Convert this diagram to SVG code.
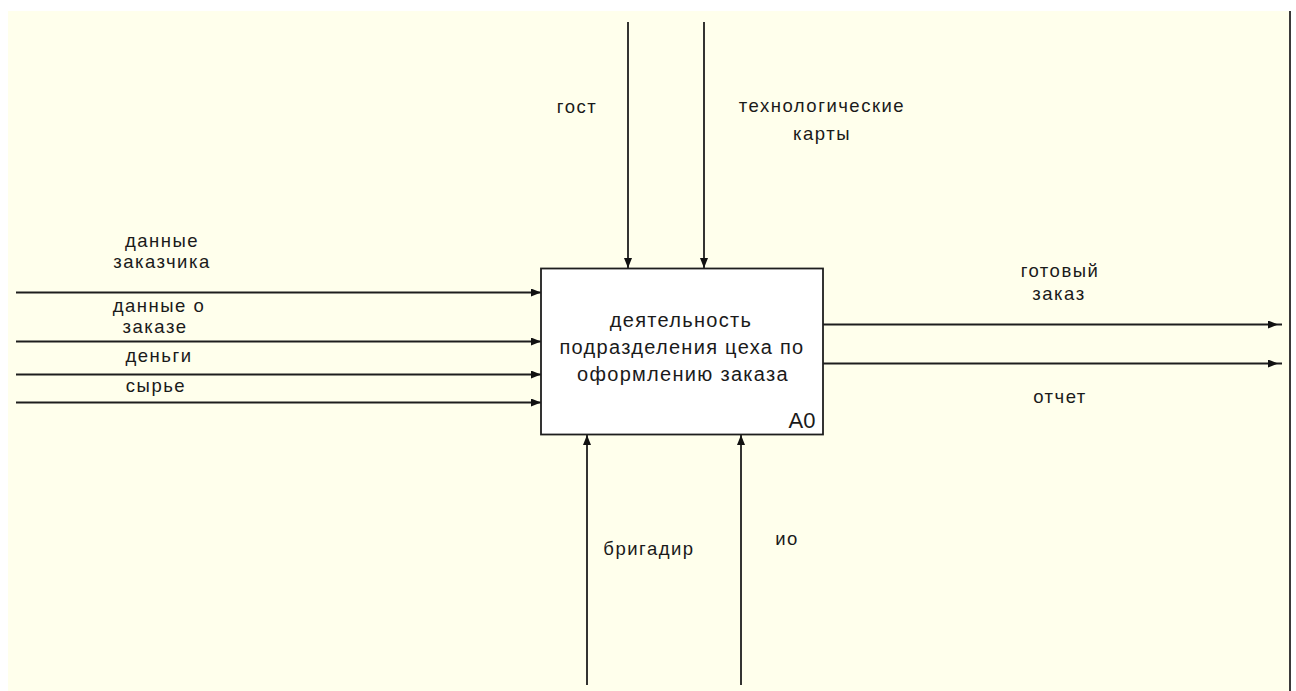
<svg xmlns="http://www.w3.org/2000/svg" width="1296" height="691" viewBox="0 0 1296 691">
<defs>
<style>
.lbl{font-family:"Liberation Sans",Arial,sans-serif;font-size:18.5px;fill:#1a1a1a;text-anchor:middle;letter-spacing:1.5px}
.box{font-family:"Liberation Sans",Arial,sans-serif;font-size:20px;fill:#1a1a1a;text-anchor:middle;letter-spacing:1.3px}
.arr{stroke:#1e1e1e;stroke-width:1.8;fill:none}
</style>
<marker id="ah" markerUnits="userSpaceOnUse" markerWidth="12" markerHeight="10" refX="10" refY="4" orient="auto">
<path d="M0,0 L10,4 L0,8 z" fill="#111"/>
</marker>
<marker id="ahOut" markerUnits="userSpaceOnUse" markerWidth="16" markerHeight="10" refX="14" refY="4" orient="auto">
<path d="M0,0 L10,4 L0,8 z" fill="#111"/>
</marker>
</defs>
<rect x="0" y="0" width="1296" height="691" fill="#ffffff"/>
<rect x="8" y="11" width="1282" height="680" fill="#ffffec"/>
<line x1="1290" y1="11" x2="1290" y2="691" stroke="#3a3a3a" stroke-width="2"/>

<g id="connectors">
<line class="arr" x1="16" y1="292.5" x2="541" y2="292.5" marker-end="url(#ah)"/>
<line class="arr" x1="16" y1="341.5" x2="541" y2="341.5" marker-end="url(#ah)"/>
<line class="arr" x1="16" y1="374.5" x2="541" y2="374.5" marker-end="url(#ah)"/>
<line class="arr" x1="16" y1="402.5" x2="541" y2="402.5" marker-end="url(#ah)"/>
<line class="arr" x1="628" y1="22" x2="628" y2="268" marker-end="url(#ah)"/>
<line class="arr" x1="704" y1="22" x2="704" y2="268" marker-end="url(#ah)"/>
<line class="arr" x1="587" y1="685" x2="587" y2="435" marker-end="url(#ah)"/>
<line class="arr" x1="741" y1="685" x2="741" y2="435" marker-end="url(#ah)"/>
<line class="arr" x1="823" y1="324.5" x2="1282" y2="324.5" marker-end="url(#ahOut)"/>
<line class="arr" x1="823" y1="363.5" x2="1282" y2="363.5" marker-end="url(#ahOut)"/>
</g>

<g id="node-A0">
<rect x="541" y="268.5" width="282" height="166" fill="#ffffff" stroke="#1e1e1e" stroke-width="1.8"/>
<text class="box" x="681" y="327">деятельность</text>
<text class="box" x="682" y="354">подразделения цеха по</text>
<text class="box" x="683" y="381">оформлению заказа</text>
<text class="box" x="802" y="428" style="font-size:22px;letter-spacing:0">A0</text>
</g>

<g id="labels">
<text class="lbl" x="577" y="113">гост</text>
<text class="lbl" x="822" y="112">технологические</text>
<text class="lbl" x="822" y="140">карты</text>
<text class="lbl" x="162" y="247">данные</text>
<text class="lbl" x="162" y="268">заказчика</text>
<text class="lbl" x="159" y="312">данные о</text>
<text class="lbl" x="155" y="333">заказе</text>
<text class="lbl" x="159" y="362">деньги</text>
<text class="lbl" x="156" y="392">сырье</text>
<text class="lbl" x="1060" y="277">готовый</text>
<text class="lbl" x="1059" y="300">заказ</text>
<text class="lbl" x="1060" y="403">отчет</text>
<text class="lbl" x="649" y="555">бригадир</text>
<text class="lbl" x="787" y="545">ио</text>
</g>
</svg>
